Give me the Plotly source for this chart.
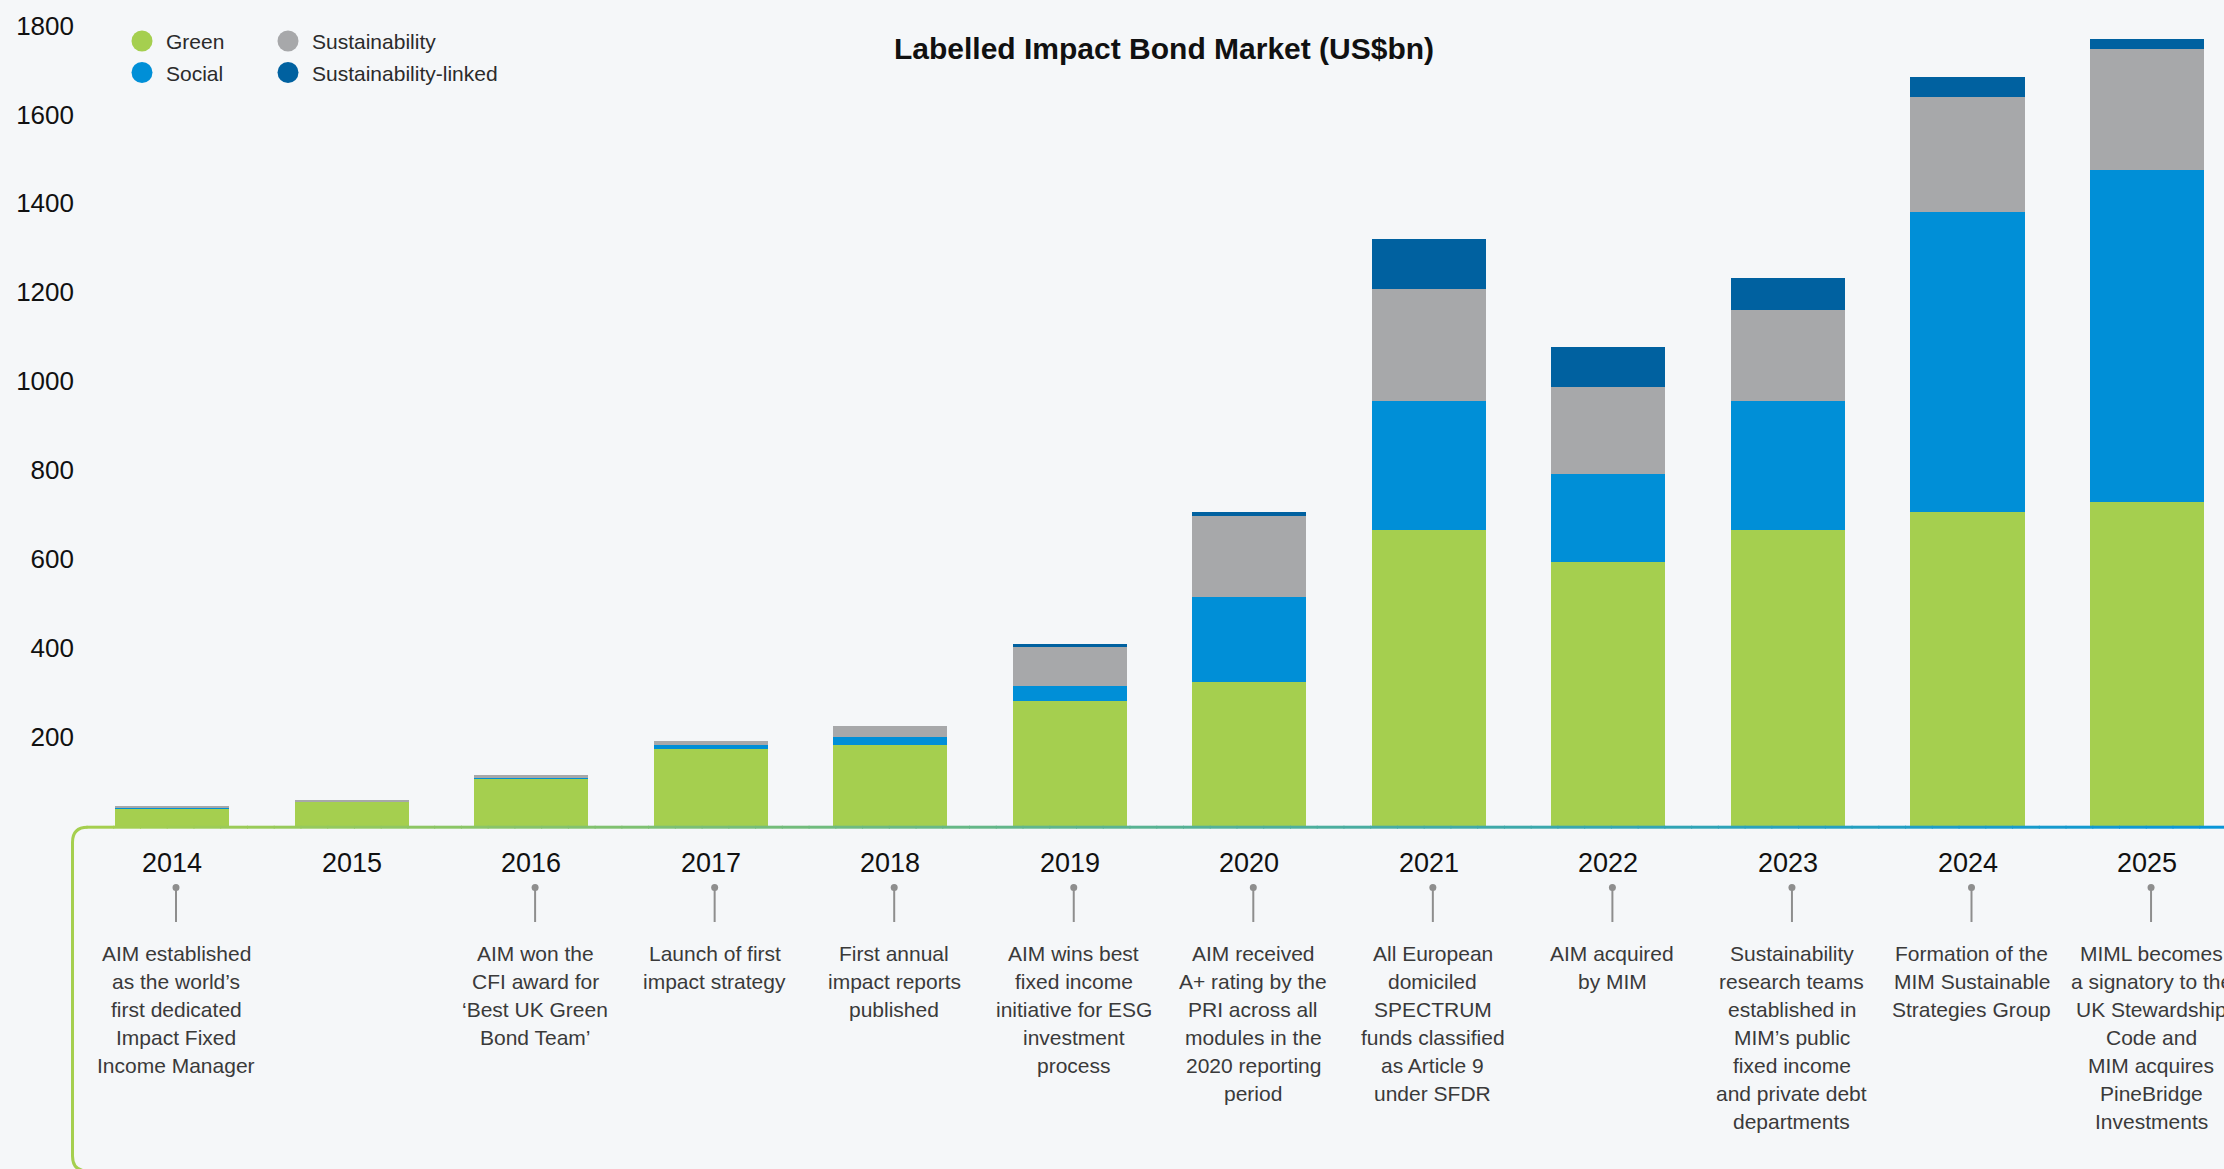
import plotly.graph_objects as go

# Labelled impact bond issuance by type, US$bn
years = [2014, 2015, 2016, 2017, 2018, 2019, 2020, 2021, 2022, 2023, 2024, 2025]
green = [38, 53, 105, 172, 181, 281, 323, 665, 594, 665, 706, 728]
social = [3, 2, 2, 9, 18, 33, 192, 290, 198, 290, 675, 748]
sustainability = [2, 3, 7, 9, 25, 88, 182, 252, 195, 205, 259, 272]
sustainability_linked = [0, 0, 0, 0, 0, 7, 9, 112, 89, 73, 44, 22]

series_names = ["Green", "Social", "Sustainability", "Sustainability-linked"]
series_values = [green, social, sustainability, sustainability_linked]
series_colors = ["#a5cf4f", "#008fd7", "#a7a8aa", "#0061a0"]

y_tick_values = [200, 400, 600, 800, 1000, 1200, 1400, 1600, 1800]

milestones = [
    ["AIM established", "as the world’s", "first dedicated", "Impact Fixed", "Income Manager"],
    [],
    ["AIM won the", "CFI award for", "‘Best UK Green", "Bond Team’"],
    ["Launch of first", "impact strategy"],
    ["First annual", "impact reports", "published"],
    ["AIM wins best", "fixed income", "initiative for ESG", "investment", "process"],
    ["AIM received", "A+ rating by the", "PRI across all", "modules in the", "2020 reporting", "period"],
    ["All European", "domiciled", "SPECTRUM", "funds classified", "as Article 9", "under SFDR"],
    ["AIM acquired", "by MIM"],
    ["Sustainability", "research teams", "established in", "MIM’s public", "fixed income",
     "and private debt", "departments"],
    ["Formation of the", "MIM Sustainable", "Strategies Group"],
    ["MIML becomes", "a signatory to the", "UK Stewardship", "Code and", "MIM acquires",
     "PineBridge", "Investments"],
]

title_text = "Labelled Impact Bond Market (US$bn)"

# ---- canvas geometry (pixels) ----
W, H = 2224, 1169
ML = 75                    # left margin holding the value labels
ZERO_PX = 825.5            # page row of the value axis baseline
PX_PER_UNIT = 0.4444       # vertical pixels per US$bn
FIRST_CENTER_PX = 172      # page column of the first year's bar centre
PITCH_PX = 179.55          # spacing between years
BG = "#f5f7f9"
FONT = "Liberation Sans, Arial, sans-serif"

x_lo = years[0] - (FIRST_CENTER_PX - ML) / PITCH_PX
x_hi = years[0] + (W - FIRST_CENTER_PX) / PITCH_PX
y_hi = ZERO_PX / PX_PER_UNIT
y_lo = -(H - ZERO_PX) / PX_PER_UNIT


def px_x(p):
    """page column -> paper x"""
    return (p - ML) / (W - ML)


def px_y(p):
    """page row -> paper y"""
    return 1 - p / H


def px_dx(d):
    """pixel width -> x data units"""
    return d / PITCH_PX


fig = go.Figure()

for name, vals, col in zip(series_names, series_values, series_colors):
    fig.add_trace(go.Bar(
        x=years, y=vals, name=name,
        marker=dict(color=col, line=dict(width=0)),
        width=0.635, showlegend=False,
        hovertemplate=name + " %{x}: %{y}<extra></extra>",
    ))

shapes = []
annotations = []

# title
annotations.append(dict(
    text="<b>" + title_text + "</b>", xref="paper", yref="paper",
    x=px_x(1164), y=px_y(48), xanchor="center", yanchor="middle",
    showarrow=False, font=dict(family=FONT, size=30, color="#111111"),
))

# legend: two columns of round swatches
legend_slots = [(142, 41), (142, 72.5), (288, 41), (288, 72.5)]
for (cx, cy), name, col in zip(legend_slots, series_names, series_colors):
    r = 10.5
    shapes.append(dict(type="circle", xref="paper", yref="paper",
                       x0=px_x(cx - r), x1=px_x(cx + r), y0=px_y(cy + r), y1=px_y(cy - r),
                       fillcolor=col, line=dict(width=0), layer="above"))
    annotations.append(dict(
        text=name, xref="paper", yref="paper", x=px_x(cx + 22), y=px_y(cy + 1),
        xanchor="left", yanchor="middle", showarrow=False,
        font=dict(family=FONT, size=21, color="#2b2b2b"),
    ))

# rounded frame around the timeline: green left edge, gradient top edge
LEFT = 72.5
TOP = 827.2
R = 15
BOTTOM = 1171
frame_path = (
    f"M {px_x(LEFT + R)},{px_y(TOP)} "
    f"Q {px_x(LEFT)},{px_y(TOP)} {px_x(LEFT)},{px_y(TOP + R)} "
    f"L {px_x(LEFT)},{px_y(BOTTOM - R)} "
    f"Q {px_x(LEFT)},{px_y(BOTTOM)} {px_x(LEFT + R)},{px_y(BOTTOM)}"
)
shapes.append(dict(type="path", xref="paper", yref="paper", path=frame_path,
                   line=dict(color="#a5cf4f", width=3), layer="above"))

c_start = (165, 207, 79)
c_end = (10, 150, 216)
n_seg = 80
x_start = LEFT + R - 1
x_end = W + 2
for i in range(n_seg):
    t = i / (n_seg - 1)
    c = tuple(round(a + (b - a) * t) for a, b in zip(c_start, c_end))
    xa = x_start + (x_end - x_start) * i / n_seg
    xb = x_start + (x_end - x_start) * (i + 1) / n_seg + 1
    shapes.append(dict(type="line", xref="paper", yref="paper",
                       x0=px_x(xa), x1=px_x(xb), y0=px_y(TOP), y1=px_y(TOP),
                       line=dict(color=f"rgb{c}", width=3), layer="above"))

# timeline: year, pin and milestone text under each bar
for yr, lines in zip(years, milestones):
    annotations.append(dict(
        text=str(yr), xref="x", yref="paper", x=yr, y=px_y(863),
        xanchor="center", yanchor="middle", showarrow=False,
        font=dict(family=FONT, size=27, color="#111111"),
    ))
    if not lines:
        continue
    xc = yr + px_dx(4)
    shapes.append(dict(type="line", xref="x", yref="paper",
                       x0=xc, x1=xc, y0=px_y(887), y1=px_y(922),
                       line=dict(color="#8e8e8e", width=2)))
    shapes.append(dict(type="circle", xref="x", yref="paper",
                       x0=xc - px_dx(3.5), x1=xc + px_dx(3.5),
                       y0=px_y(891), y1=px_y(884),
                       fillcolor="#8e8e8e", line=dict(width=0)))
    for k, ln in enumerate(lines):
        annotations.append(dict(
            text=ln, xref="x", yref="paper", x=xc, y=px_y(953 + 28 * k),
            xanchor="center", yanchor="middle", showarrow=False,
            font=dict(family=FONT, size=21, color="#3a3a3a"),
        ))

fig.update_layout(
    width=W, height=H,
    margin=dict(l=ML, r=0, t=0, b=0, pad=0),
    paper_bgcolor=BG, plot_bgcolor=BG,
    barmode="stack", bargap=0,
    showlegend=False,
    xaxis=dict(range=[x_lo, x_hi], showticklabels=False, showgrid=False,
               zeroline=False, showline=False, ticks="", fixedrange=True),
    yaxis=dict(range=[y_lo, y_hi], tickvals=y_tick_values,
               ticktext=[str(v) for v in y_tick_values],
               showgrid=False, zeroline=False, showline=False, ticks="",
               tickfont=dict(family=FONT, size=26, color="#111111"),
               fixedrange=True),
    shapes=shapes,
    annotations=annotations,
)

fig.write_html("out.html")
